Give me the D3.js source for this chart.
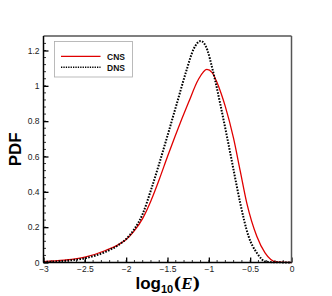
<!DOCTYPE html>
<html>
<head>
<meta charset="utf-8">
<script src="https://cdn.jsdelivr.net/npm/d3@7.9.0/dist/d3.min.js"></script>
<style>
  body { margin: 0; background: #fff; }
  svg { display: block; font-family: "Liberation Sans", Arial, sans-serif; }
</style>
</head>
<body>
<svg id="chart" width="332" height="296"></svg>
<script>
// --- DATA ---
const cnsLogE = [-3, -2.75, -2.5, -2.25, -2.1, -2, -1.9, -1.8, -1.7, -1.6, -1.5, -1.407, -1.246, -1.125, -1.024, -0.96, -0.911, -0.85, -0.802, -0.702, -0.621, -0.54, -0.42, -0.32, -0.18, 0];
const cnsPdf  = [0.005, 0.013, 0.03, 0.068, 0.1, 0.13, 0.18, 0.25, 0.35, 0.47, 0.6, 0.716, 0.905, 1.037, 1.093, 1.075, 1.03, 0.955, 0.885, 0.705, 0.52, 0.335, 0.149, 0.055, 0.003, 0];
const dnsLogE = [-3, -2.75, -2.5, -2.25, -2.1, -2, -1.9, -1.8, -1.7, -1.6, -1.508, -1.387, -1.274, -1.185, -1.097, -1.016, -0.964, -0.923, -0.863, -0.782, -0.702, -0.621, -0.52, -0.42, -0.3, 0];
const dnsPdf  = [0.003, 0.009, 0.024, 0.06, 0.097, 0.133, 0.19, 0.275, 0.41, 0.56, 0.705, 0.9, 1.082, 1.207, 1.254, 1.2, 1.11, 1.03, 0.9, 0.716, 0.527, 0.338, 0.149, 0.055, 0.003, 0];
const xTicks = [-3, -2.5, -2, -1.5, -1, -0.5, 0];
const yTicks = [0, 0.2, 0.4, 0.6, 0.8, 1, 1.2];
const seriesNames = ['CNS', 'DNS'];

const svg = d3.select('#chart');
const margin = { left: 43.5, right: 40.5, top: 36, bottom: 33.5 };
const W = 332, H = 296;

const x = d3.scaleLinear().domain([-3, 0]).range([margin.left, W - margin.right]);
const y = d3.scaleLinear().domain([0, 1.282]).range([H - margin.bottom, margin.top]);

// minor ticks
const xMinor = d3.range(-3, 0.001, 0.1).map(v => +v.toFixed(2));
const yMinor = d3.range(0, 1.28, 0.04).map(v => +v.toFixed(2));

const g = svg.append('g');

// bottom axis, ticks pointing inside
const xAxis = d3.axisBottom(x).tickValues(xTicks).tickSizeInner(-5).tickSizeOuter(0)
    .tickPadding(4).tickFormat(d => d3.format('')(d));
g.append('g').attr('transform', `translate(0,${y(0)})`).call(xAxis)
    .call(s => s.select('.domain').remove())
    .call(s => s.selectAll('text').attr('font-size', 8.5).attr('fill', '#222').attr('dy', '0.6em'))
    .call(s => s.selectAll('line').attr('stroke', '#000').attr('stroke-width', 1.3));
g.append('g').attr('transform', `translate(0,${y(0)})`)
    .selectAll('line').data(xMinor).join('line')
    .attr('x1', d => x(d)).attr('x2', d => x(d)).attr('y1', 0).attr('y2', -2.5)
    .attr('stroke', '#000').attr('stroke-width', 0.8);

const yAxis = d3.axisLeft(y).tickValues(yTicks).tickSizeInner(-5).tickSizeOuter(0)
    .tickPadding(4).tickFormat(d => d3.format('')(d));
g.append('g').attr('transform', `translate(${x(-3)},0)`).call(yAxis)
    .call(s => s.select('.domain').remove())
    .call(s => s.selectAll('text').attr('font-size', 8.5).attr('fill', '#222'))
    .call(s => s.selectAll('line').attr('stroke', '#000').attr('stroke-width', 1.3));
g.append('g').attr('transform', `translate(${x(-3)},0)`)
    .selectAll('line').data(yMinor).join('line')
    .attr('x1', 0).attr('x2', 2.5).attr('y1', d => y(d)).attr('y2', d => y(d))
    .attr('stroke', '#000').attr('stroke-width', 0.8);

// curves
const line = (xs, ys) => d3.line()
    .x((d, i) => x(xs[i]))
    .y(d => y(d))
    .curve(d3.curveMonotoneX)(ys);

g.append('path').attr('d', line(cnsLogE, cnsPdf))
    .attr('fill', 'none').attr('stroke', '#e00000').attr('stroke-width', 1.3);
g.append('path').attr('d', line(dnsLogE, dnsPdf))
    .attr('fill', 'none').attr('stroke', '#000').attr('stroke-width', 2)
    .attr('stroke-dasharray', '1.6,1.4');

// frame
g.append('line').attr('x1', x(-3)).attr('x2', x(0)).attr('y1', y.range()[1]).attr('y2', y.range()[1])
    .attr('stroke', '#555').attr('stroke-width', 1.5);
g.append('line').attr('x1', x(0)).attr('x2', x(0)).attr('y1', y.range()[1]).attr('y2', y(0))
    .attr('stroke', '#555').attr('stroke-width', 1.5);
g.append('line').attr('x1', x(-3)).attr('x2', x(-3)).attr('y1', y.range()[1]).attr('y2', y(0))
    .attr('stroke', '#000').attr('stroke-width', 1.5);
g.append('line').attr('x1', x(-3)).attr('x2', x(0)).attr('y1', y(0)).attr('y2', y(0))
    .attr('stroke', '#000').attr('stroke-width', 1.5);

// legend
const leg = svg.append('g').attr('transform', 'translate(54.5,41.5)');
leg.append('rect').attr('width', 78).attr('height', 35.5)
    .attr('fill', '#fff').attr('stroke', '#aaa').attr('stroke-width', 0.8);
seriesNames.forEach((name, i) => {
    const yy = 14.8 + i * 11;
    leg.append('line').attr('x1', 6.5).attr('x2', 46).attr('y1', yy).attr('y2', yy)
        .attr('stroke', i === 0 ? '#e00000' : '#000')
        .attr('stroke-width', i === 0 ? 1.3 : 1.6)
        .attr('stroke-dasharray', i === 0 ? null : '1.3,1.1');
    leg.append('text').attr('x', 52.5).attr('y', yy + 3.2)
        .attr('font-size', 8.5).attr('font-weight', 'bold').attr('fill', '#111').text(name);
});

// axis titles
svg.append('text')
    .attr('transform', `translate(20.5,${(y(0) + y.range()[1]) / 2}) rotate(-90)`)
    .attr('text-anchor', 'middle').attr('font-size', 17).attr('font-weight', 'bold')
    .text('PDF');

const xt = svg.append('text').attr('x', 168).attr('y', 289)
    .attr('text-anchor', 'middle').attr('font-size', 17).attr('font-weight', 'bold');
xt.append('tspan').text('log');
xt.append('tspan').attr('font-size', 11).attr('dy', 4).text('10');
xt.append('tspan').attr('dy', -4).attr('font-family', '"DejaVu Serif", "Liberation Serif", serif')
    .text('(');
xt.append('tspan').attr('font-family', '"Liberation Serif", serif').attr('font-style', 'italic').text('E');
xt.append('tspan').attr('font-family', '"DejaVu Serif", "Liberation Serif", serif').text(')');
</script>
</body>
</html>
